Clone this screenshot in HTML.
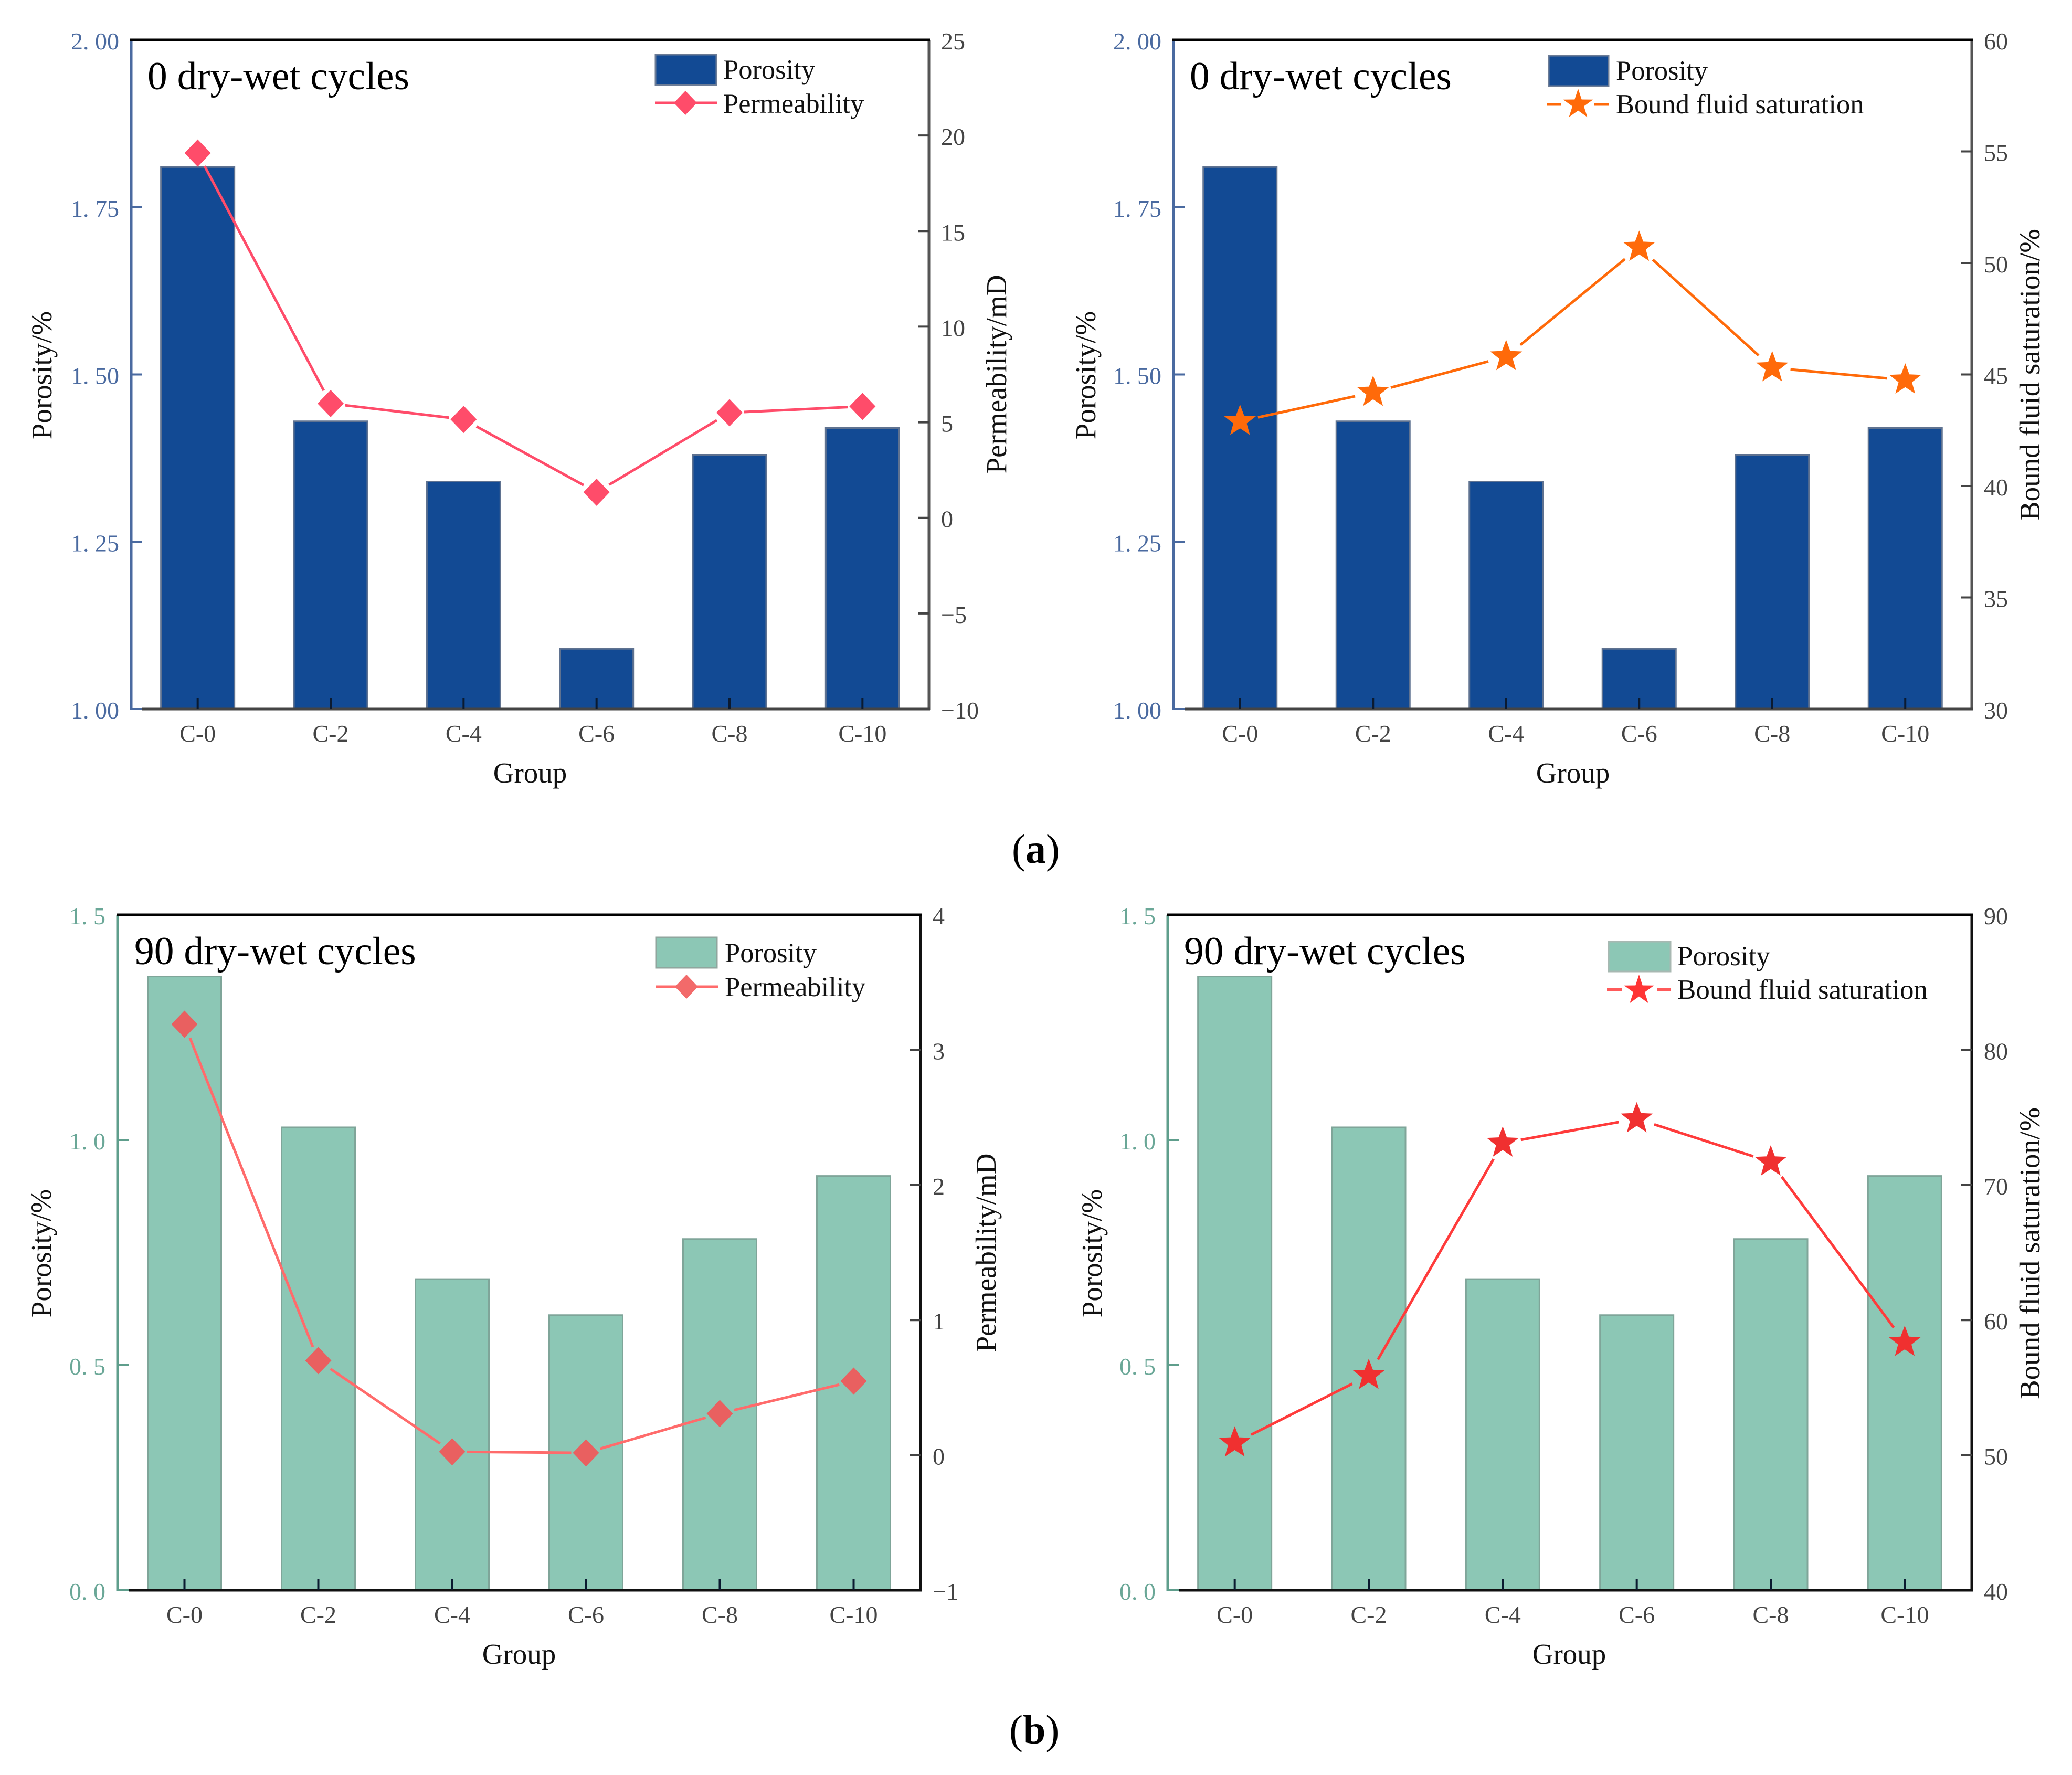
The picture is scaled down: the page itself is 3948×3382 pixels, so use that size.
<!DOCTYPE html>
<html lang="en">
<head>
<meta charset="utf-8">
<title>Porosity, permeability and bound fluid saturation</title>
<style>
html,body{margin:0;padding:0;background:#fff;width:3948px;height:3382px;overflow:hidden}
svg{display:block}
text{font-family:"Liberation Serif","Noto Serif CJK SC",serif;fill:#111}
.title{font-size:75.5px;fill:#000}
.legend{font-size:52.5px}
.axis-title{font-size:55px}
.caption{font-size:78px;font-weight:bold;fill:#000}
.caption tspan{font-weight:normal}
.tick-label{font-size:46px}
</style>
</head>
<body>
<svg id="figure" xmlns="http://www.w3.org/2000/svg" width="3948" height="3382" viewBox="0 0 3948 3382">
<rect x="0" y="0" width="3948" height="3382" fill="#fff"/>

<g id="panel-a1">
  <text class="title" x="281" y="170">0 dry-wet cycles</text>
  <text class="axis-title" transform="translate(98 715) rotate(-90)" text-anchor="middle">Porosity/%</text>
  <text class="axis-title" transform="translate(1917 713) rotate(-90)" text-anchor="middle">Permeability/mD</text>
  <text class="axis-title" x="1010" y="1491" text-anchor="middle">Group</text>
  <rect x="1249" y="104" width="116" height="58" fill="#124a94" stroke="#6c7c96" stroke-width="3"/>
  <text class="legend" x="1378" y="150">Porosity</text>
  <line x1="1248" y1="196" x2="1366" y2="196" stroke="#ff4c6a" stroke-width="5"/>
  <polygon points="1306,173 1328,196 1306,219 1284,196" fill="#ff4c6a"/>
  <text class="legend" x="1378" y="215">Permeability</text>
</g>

<g id="panel-a2">
  <text class="title" x="2267" y="170">0 dry-wet cycles</text>
  <text class="axis-title" transform="translate(2087 715) rotate(-90)" text-anchor="middle">Porosity/%</text>
  <text class="axis-title" transform="translate(3886 714) rotate(-90)" text-anchor="middle">Bound fluid saturation/%</text>
  <text class="axis-title" x="2997" y="1491" text-anchor="middle">Group</text>
  <rect x="2951" y="106" width="114" height="58" fill="#124a94" stroke="#6c7c96" stroke-width="3"/>
  <text class="legend" x="3079" y="152">Porosity</text>
  <line x1="2948" y1="199" x2="2975" y2="199" stroke="#ff6a0a" stroke-width="5"/>
  <line x1="3038" y1="199" x2="3065" y2="199" stroke="#ff6a0a" stroke-width="5"/>
  <polygon points="3007,169 3013.7,189.5 3035.5,189.7 3017.9,202.5 3024.6,223.3 3007,210.6 2989.4,223.3 2996.1,202.5 2978.5,189.7 3000.3,189.5" fill="#ff6a0a"/>
  <text class="legend" x="3079" y="216">Bound fluid saturation</text>
</g>

<g id="panel-b1">
  <text class="title" x="256" y="1837">90 dry-wet cycles</text>
  <text class="axis-title" transform="translate(97 2388) rotate(-90)" text-anchor="middle">Porosity/%</text>
  <text class="axis-title" transform="translate(1897 2387) rotate(-90)" text-anchor="middle">Permeability/mD</text>
  <text class="axis-title" x="989" y="3170" text-anchor="middle">Group</text>
  <rect x="1250" y="1786" width="116" height="58" fill="#8cc7b5" stroke="#8fa69e" stroke-width="3"/>
  <text class="legend" x="1381" y="1833">Porosity</text>
  <line x1="1249" y1="1880" x2="1368" y2="1880" stroke="#ff6b6b" stroke-width="5"/>
  <polygon points="1308,1857 1330,1880 1308,1903 1286,1880" fill="#f26a6a"/>
  <text class="legend" x="1381" y="1898">Permeability</text>
</g>

<g id="panel-b2">
  <text class="title" x="2256" y="1837">90 dry-wet cycles</text>
  <text class="axis-title" transform="translate(2099 2388) rotate(-90)" text-anchor="middle">Porosity/%</text>
  <text class="axis-title" transform="translate(3886 2388) rotate(-90)" text-anchor="middle">Bound fluid saturation/%</text>
  <text class="axis-title" x="2990" y="3170" text-anchor="middle">Group</text>
  <rect x="3065" y="1794" width="118" height="57" fill="#8cc7b5" stroke="#a8b8b2" stroke-width="3"/>
  <text class="legend" x="3196" y="1839" style="font-size:53px">Porosity</text>
  <line x1="3062" y1="1886" x2="3091" y2="1886" stroke="#ff5a5a" stroke-width="6"/>
  <line x1="3157" y1="1886" x2="3184" y2="1886" stroke="#ff5a5a" stroke-width="6"/>
  <polygon points="3123,1857 3129.7,1877.5 3151.5,1877.7 3133.9,1890.5 3140.6,1911.3 3123,1898.6 3105.4,1911.3 3112.1,1890.5 3094.5,1877.7 3116.3,1877.5" fill="#ff3535"/>
  <text class="legend" x="3196" y="1903" style="font-size:53px">Bound fluid saturation</text>
</g>

<text class="caption" x="1928" y="1644"><tspan>(</tspan>a<tspan>)</tspan></text>
<text class="caption" x="1923" y="3322"><tspan>(</tspan>b<tspan>)</tspan></text>
</svg>

<script>
const categories = ['C-0', 'C-2', 'C-4', 'C-6', 'C-8', 'C-10'];

const porosity0 = [1.81, 1.43, 1.34, 1.09, 1.38, 1.42];
const permeability0 = [19.08, 5.98, 5.15, 1.34, 5.5, 5.83];
const boundFluid0 = [42.9, 44.2, 45.8, 50.7, 45.3, 44.75];

const porosity90 = [1.363, 1.028, 0.691, 0.611, 0.78, 0.92];
const permeability90 = [3.19, 0.70, 0.025, 0.017, 0.308, 0.548];
const boundFluid90 = [50.9, 55.9, 73.1, 74.9, 71.7, 58.35];

const porosityTicks0 = [1, 1.25, 1.5, 1.75, 2];
const porosityTicks90 = [0, 0.5, 1, 1.5];
const permeabilityTicks0 = [-10, -5, 0, 5, 10, 15, 20, 25];
const permeabilityTicks90 = [-1, 0, 1, 2, 3, 4];
const boundFluidTicks0 = [30, 35, 40, 45, 50, 55, 60];
const boundFluidTicks90 = [40, 50, 60, 70, 80, 90];

const SVG_NS = 'http://www.w3.org/2000/svg';

function make(parent, tag, attrs) {
  const el = document.createElementNS(SVG_NS, tag);
  for (const k in attrs) el.setAttribute(k, attrs[k]);
  parent.appendChild(el);
  return el;
}

function leftLabel(v, digits) {
  return v.toFixed(digits).replace('.', '. ');
}

function rightLabel(v) {
  return String(v).replace('-', '\u2212');
}

function starPoints(cx, cy, r) {
  const pts = [];
  for (let i = 0; i < 10; i++) {
    const rad = i % 2 ? r * 0.42 : r;
    const a = -Math.PI / 2 + i * Math.PI / 5;
    pts.push((cx + rad * Math.cos(a)).toFixed(1) + ',' + (cy + rad * Math.sin(a)).toFixed(1));
  }
  return pts.join(' ');
}

function diamondPoints(cx, cy, r) {
  return [cx + ',' + (cy - r), (cx + r - 1) + ',' + cy, cx + ',' + (cy + r), (cx - r + 1) + ',' + cy].join(' ');
}

function drawPanel(o) {
  const root = document.getElementById(o.id);
  const layer = make(root, 'g', {});
  
  

  const band = (o.right - o.left) / categories.length;
  const xAt = i => o.left + band * (i + 0.5);
  const leftMax = o.leftTicks[o.leftTicks.length - 1];
  const rightMax = o.rightTicks[o.rightTicks.length - 1];
  const yLeft = v => o.bottom - (v - o.leftTicks[0]) / (leftMax - o.leftTicks[0]) * (o.bottom - o.top);
  const yRight = v => o.bottom - (v - o.rightTicks[0]) / (rightMax - o.rightTicks[0]) * (o.bottom - o.top);

  o.bars.forEach((v, i) => {
    const bar = make(layer, 'rect', {
      x: xAt(i) - 70, y: yLeft(v), width: 140, height: o.bottom - yLeft(v),
      fill: o.barFill, stroke: o.barEdge, 'stroke-width': 3
    });
    
    
  });

  const leftAxis = make(layer, 'line', { x1: o.left, y1: o.top, x2: o.left, y2: o.bottom + 2, stroke: o.leftColor, 'stroke-width': 5 });
  
  

  const rightAxis = make(layer, 'line', { x1: o.right, y1: o.top, x2: o.right, y2: o.bottom + 2, stroke: o.rightColor, 'stroke-width': 5 });
  
  

  const topAxis = make(layer, 'line', { x1: o.left - 2, y1: o.top, x2: o.right + 2, y2: o.top, stroke: '#000', 'stroke-width': 5 });
  
  

  const bottomAxis = make(layer, 'line', { x1: o.left + 21, y1: o.bottom, x2: o.right + 2, y2: o.bottom, stroke: o.bottomColor, 'stroke-width': 5 });
  
  

  categories.forEach((c, i) => {
    const tick = make(layer, 'line', { x1: xAt(i), y1: o.bottom - 22, x2: xAt(i), y2: o.bottom, stroke: '#0a1a30', 'stroke-width': 4 });
    
    
    const label = make(layer, 'text', { class: 'tick-label', x: xAt(i), y: o.bottom + 62, 'text-anchor': 'middle', style: 'fill:#444' });
    label.textContent = c;
    
    
  });

  o.leftTicks.forEach(v => {
    const y = yLeft(v);
    if (v !== leftMax) {
      const tick = make(layer, 'line', { x1: o.left, y1: y, x2: o.left + 21, y2: y, stroke: o.leftColor, 'stroke-width': 4 });
      
      
    }
    const label = make(layer, 'text', { class: 'tick-label', x: o.left - 23, y: y + 18, 'text-anchor': 'end', style: 'fill:' + o.leftLabelColor });
    label.textContent = leftLabel(v, o.leftDigits);
    
    
  });

  o.rightTicks.forEach(v => {
    const y = yRight(v);
    if (v !== rightMax && v !== o.rightTicks[0]) {
      const tick = make(layer, 'line', { x1: o.right - 21, y1: y, x2: o.right, y2: y, stroke: '#444', 'stroke-width': 4 });
      
      
    }
    const label = make(layer, 'text', { class: 'tick-label', x: o.right + 23, y: y + 18, style: 'fill:#444' });
    label.textContent = rightLabel(v);
    
    
  });

  for (let i = 0; i < o.line.length - 1; i++) {
    const x1 = xAt(i), y1 = yRight(o.line[i]), x2 = xAt(i + 1), y2 = yRight(o.line[i + 1]);
    const len = Math.hypot(x2 - x1, y2 - y1);
    const ux = (x2 - x1) / len, uy = (y2 - y1) / len;
    const seg = make(layer, 'line', {
      x1: x1 + ux * o.gap, y1: y1 + uy * o.gap, x2: x2 - ux * o.gap, y2: y2 - uy * o.gap,
      stroke: o.lineColor, 'stroke-width': 5
    });
    
    
  }

  o.line.forEach((v, i) => {
    const pts = o.marker === 'star' ? starPoints(xAt(i), yRight(v), 32) : diamondPoints(xAt(i), yRight(v), 26);
    const mark = make(layer, 'polygon', { points: pts, fill: o.markerColor });
    
    
  });
}

drawPanel({
  id: 'panel-a1', left: 250, right: 1770, top: 76, bottom: 1351,
  bars: porosity0, line: permeability0, leftTicks: porosityTicks0, rightTicks: permeabilityTicks0, leftDigits: 2,
  barFill: '#124a94', barEdge: '#5f7290', leftColor: '#4a6aa0', leftLabelColor: '#4a6aa0', rightColor: '#555', bottomColor: '#444',
  lineColor: '#ff4c6a', markerColor: '#ff4c6a', marker: 'diamond', gap: 28
});
drawPanel({
  id: 'panel-a2', left: 2236, right: 3757, top: 76, bottom: 1351,
  bars: porosity0, line: boundFluid0, leftTicks: porosityTicks0, rightTicks: boundFluidTicks0, leftDigits: 2,
  barFill: '#124a94', barEdge: '#5f7290', leftColor: '#4a6aa0', leftLabelColor: '#4a6aa0', rightColor: '#555', bottomColor: '#444',
  lineColor: '#ff6a0a', markerColor: '#ff6a0a', marker: 'star', gap: 35
});
drawPanel({
  id: 'panel-b1', left: 224, right: 1754, top: 1743, bottom: 3030,
  bars: porosity90, line: permeability90, leftTicks: porosityTicks90, rightTicks: permeabilityTicks90, leftDigits: 1,
  barFill: '#8cc7b5', barEdge: '#7fa599', leftColor: '#5f9e8c', leftLabelColor: '#6aa797', rightColor: '#111', bottomColor: '#111',
  lineColor: '#ff6b6b', markerColor: '#e96060', marker: 'diamond', gap: 28
});
drawPanel({
  id: 'panel-b2', left: 2225, right: 3757, top: 1743, bottom: 3030,
  bars: porosity90, line: boundFluid90, leftTicks: porosityTicks90, rightTicks: boundFluidTicks90, leftDigits: 1,
  barFill: '#8cc7b5', barEdge: '#7fa599', leftColor: '#5f9e8c', leftLabelColor: '#6aa797', rightColor: '#111', bottomColor: '#111',
  lineColor: '#ff3b3b', markerColor: '#f03030', marker: 'star', gap: 35
});
</script>
</body>
</html>
